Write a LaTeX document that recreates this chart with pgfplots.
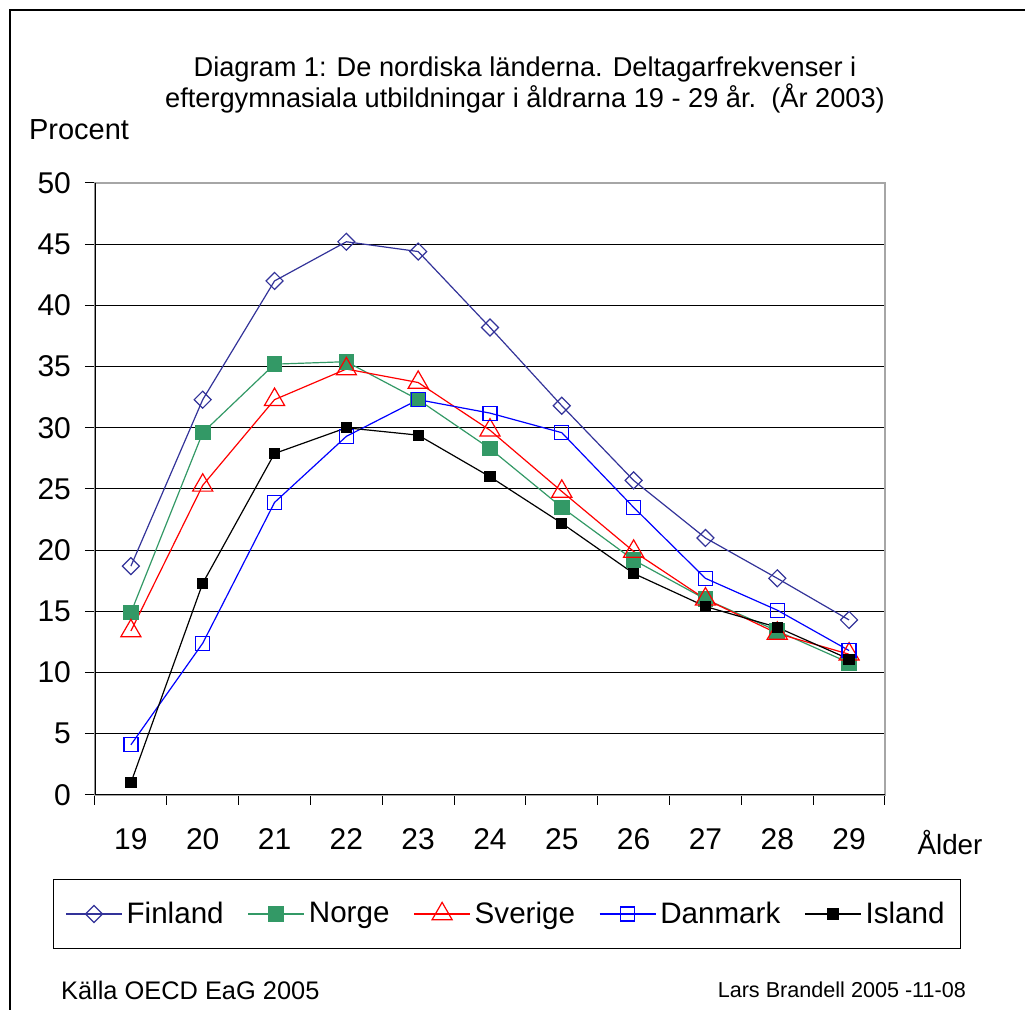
\documentclass[border=0pt]{standalone}
\usepackage{fontspec}
\setmainfont{Liberation Sans}
\usepackage{pgfplots}
\pgfplotsset{compat=1.18}
\definecolor{fin}{RGB}{51,51,153}
\definecolor{nor}{RGB}{51,153,102}
\definecolor{dan}{RGB}{0,0,255}
\definecolor{sve}{RGB}{255,0,0}
\begin{document}
\begin{tikzpicture}
\useasboundingbox (0,0) rectangle (512.5pt,-505pt);
\draw[line width=0.6pt] (5pt,-505pt) -- (5pt,-5pt) -- (512.5pt,-5pt);
\node[align=center, font=\fontsize{13.6}{15.5}\selectfont] at (262.5pt,-42.5pt)
 {Diagram 1: De nordiska länderna. Deltagarfrekvenser i\\eftergymnasiala utbildningar i åldrarna 19 - 29 år.\ \ (År 2003)};
\node[anchor=west, font=\fontsize{14.5}{16}\selectfont] at (11pt,-65pt) {Procent};
\node[font=\fontsize{13.9}{15}\selectfont] at (475pt,-421.5pt) {Ålder};
\node[anchor=west, font=\fontsize{12.7}{14}\selectfont] at (27pt,-495pt) {Källa OECD EaG 2005};
\node[anchor=east, font=\fontsize{10.8}{12}\selectfont] at (486.5pt,-495pt) {Lars Brandell 2005 -11-08};
\begin{axis}[
 at={(47.5pt,-397.5pt)}, anchor=south west,
 scale only axis, width=395pt, height=306pt,
 xmin=-0.5, xmax=10.5, ymin=0, ymax=50,
 xtick={-0.5,0.5,1.5,2.5,3.5,4.5,5.5,6.5,7.5,8.5,9.5,10.5},
 xticklabels={19,20,21,22,23,24,25,26,27,28,29},
 x tick label as interval,
 ytick={0,5,...,50},
 tick pos=left,
 tick align=outside, major tick length=5pt,
 tick style={black, line width=0.5pt},
 ymajorgrids, grid style={black, line width=0.5pt},
 axis line style={gray!70, line width=0.6pt},
 ticklabel style={font=\fontsize{15}{17}\selectfont},
 xticklabel style={yshift=-8pt},
 yticklabel style={xshift=-3.5pt},
 /pgf/number format/assume math mode=true,
 legend columns=5,
 legend cell align=left,
 legend style={at={(axis description cs:0.5215,-0.1944)}, anchor=center,
   draw=black, line width=0.5pt, font=\fontsize{14.8}{17}\selectfont,
   inner xsep=6pt, inner ysep=9pt,
   /tikz/every even column/.append style={column sep=10pt}},
 legend image code/.code={\draw[mark repeat=2,mark phase=2] plot coordinates {(0pt,0pt)(14pt,0pt)(28pt,0pt)};},
]
\draw[black, line width=0.6pt] (rel axis cs:0,1) -- (rel axis cs:0,0) -- (rel axis cs:1,0);
\addplot[fin, line width=0.6pt, mark=square, mark size=3pt, mark options={rotate=45, solid}] coordinates {
(0,18.7)(1,32.3)(2,42.0)(3,45.2)(4,44.4)(5,38.2)(6,31.8)(7,25.7)(8,21.0)(9,17.7)(10,14.3)};
\addlegendentry{Finland}
\addplot[nor, line width=0.6pt, mark=square*, mark size=3.6pt, mark options={solid, fill=nor}] coordinates {
(0,14.9)(1,29.6)(2,35.2)(3,35.4)(4,32.3)(5,28.3)(6,23.5)(7,19.2)(8,16.0)(9,13.4)(10,10.8)};
\addlegendentry{Norge}
\addplot[sve, line width=0.6pt, mark=triangle, mark size=5.8pt, mark options={solid}] coordinates {
(0,13.4)(1,25.3)(2,32.3)(3,34.8)(4,33.7)(5,29.8)(6,24.8)(7,19.9)(8,16.0)(9,13.2)(10,11.5)};
\addlegendentry{Sverige}
\addplot[dan, line width=0.6pt, mark=square, mark size=3.5pt, mark options={solid}] coordinates {
(0,4.1)(1,12.4)(2,23.9)(3,29.3)(4,32.3)(5,31.2)(6,29.6)(7,23.5)(8,17.7)(9,15.1)(10,11.8)};
\addlegendentry{Danmark}
\addplot[black, line width=0.6pt, mark=square*, mark size=2.5pt, mark options={solid, fill=black}] coordinates {
(0,1.0)(1,17.3)(2,27.9)(3,30.0)(4,29.4)(5,26.0)(6,22.2)(7,18.1)(8,15.4)(9,13.7)(10,11.1)};
\addlegendentry{Island}
\end{axis}
\end{tikzpicture}
\end{document}
